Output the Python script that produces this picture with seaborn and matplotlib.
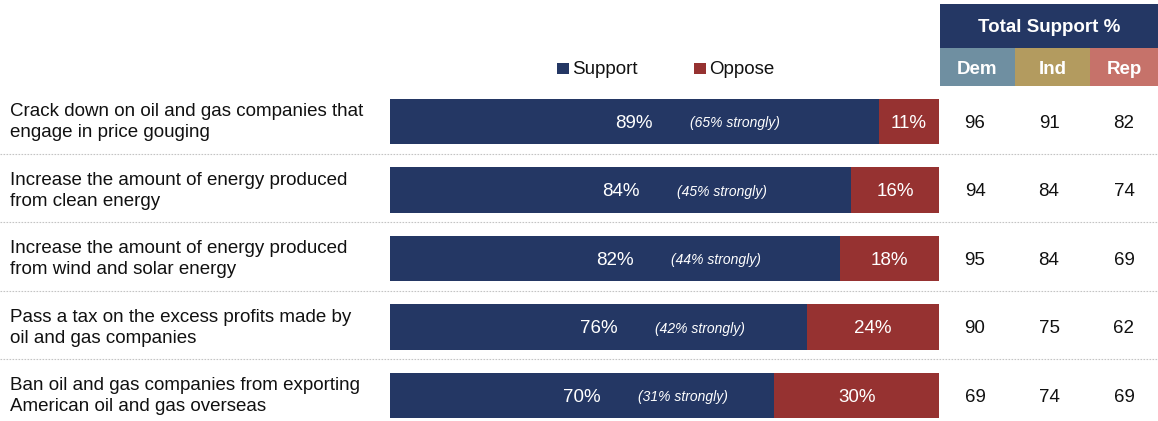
import matplotlib
matplotlib.use("Agg")
import matplotlib.pyplot as plt
import seaborn as sns
import pandas as pd
from matplotlib.patches import Rectangle

statements = [
    "Crack down on oil and gas companies that\nengage in price gouging",
    "Increase the amount of energy produced\nfrom clean energy",
    "Increase the amount of energy produced\nfrom wind and solar energy",
    "Pass a tax on the excess profits made by\noil and gas companies",
    "Ban oil and gas companies from exporting\nAmerican oil and gas overseas",
]
support = [89, 84, 82, 76, 70]
oppose = [11, 16, 18, 24, 30]
strongly = [65, 45, 44, 42, 31]
dem = [96, 94, 95, 90, 69]
ind = [91, 84, 84, 75, 74]
rep = [82, 74, 69, 62, 69]
party_labels = ["Dem", "Ind", "Rep"]
header_title = "Total Support %"

NAVY = "#243764"
RED = "#963231"
PARTY_COLORS = ["#6f8fa1", "#b39b5f", "#c6726a"]
FS = 13.5

sns.set_theme(style="white")
plt.rcParams["font.family"] = ["Liberation Sans", "DejaVu Sans"]

W, H = 1158, 421
fig = plt.figure(figsize=(W / 100, H / 100), dpi=100)

# overlay axes in pixel units for layout
ov = fig.add_axes([0, 0, 1, 1])
ov.set_xlim(0, W)
ov.set_ylim(H, 0)
ov.axis("off")

# bar axes
ax = fig.add_axes([390 / W, 0, 549 / W, 1])
df = pd.DataFrame({
    "statement": statements,
    "support": support,
    "total": [s + o for s, o in zip(support, oppose)],
})
sns.barplot(data=df, y="statement", x="total", color=RED, orient="h",
            width=0.66, saturation=1, ax=ax, linewidth=0)
sns.barplot(data=df, y="statement", x="support", color=NAVY, orient="h",
            width=0.66, saturation=1, ax=ax, linewidth=0)
c0, step = 121.5, 68.5
ax.set_xlim(0, 100)
ax.set_ylim((H - c0) / step, -c0 / step)
ax.axis("off")

dy = 1.8 / step
for i in range(len(statements)):
    s, o = support[i], oppose[i]
    ax.text(s / 2, i + dy, f"{s}%", color="white", fontsize=FS,
            ha="center", va="center")
    ax.text(s / 2 + 18.4, i + dy, f"({strongly[i]}% strongly)", color="white",
            fontsize=10, style="italic", ha="center", va="center")
    ax.text(s + o / 2, i + dy, f"{o}%", color="white", fontsize=FS,
            ha="center", va="center")

# statement labels
for i, t in enumerate(statements):
    ov.text(10, c0 + step * i + 0.8, t, fontsize=FS, color="#111111",
            ha="left", va="center", linespacing=1.3)

# separators
for i in range(len(statements) - 1):
    y = c0 + step * (i + 0.47)
    ov.plot([0, W], [y, y], color="#c4c4c4", lw=0.8, ls=(0, (1.5, 1.2)))

# header
ov.add_patch(Rectangle((940, 4), W - 940, 44, color=NAVY, lw=0))
ov.text(1049, 27.5, header_title, color="white", fontsize=FS,
        fontweight="bold", ha="center", va="center")
col_x = [(940, 1015), (1015, 1090), (1090, W)]
col_c = [975, 1049, 1124]
for (x0, x1), lab, col in zip(col_x, party_labels, PARTY_COLORS):
    ov.add_patch(Rectangle((x0, 48), x1 - x0, 38, color=col, lw=0))
    ov.text((x0 + x1) / 2, 69, lab, color="white", fontsize=FS,
            fontweight="bold", ha="center", va="center")

for j, vals in enumerate([dem, ind, rep]):
    for i, v in enumerate(vals):
        ov.text(col_c[j], c0 + step * i + 1.8, str(v), fontsize=FS,
                color="#111111", ha="center", va="center")

# legend
for x, lab, col in [(557, "Support", NAVY), (694, "Oppose", RED)]:
    ov.add_patch(Rectangle((x, 63), 12, 11, color=col, lw=0))
    ov.text(x + 15, 69.5, lab, fontsize=FS, color="#111111",
            ha="left", va="center")

fig.savefig("out.png", dpi=100)
